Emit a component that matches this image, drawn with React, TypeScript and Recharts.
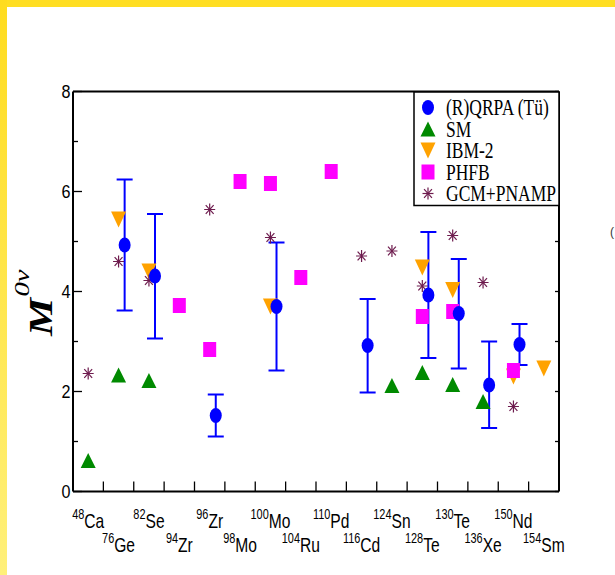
import React from 'react';
import { ScatterChart, Scatter, XAxis, YAxis, ErrorBar, ReferenceLine } from 'recharts';

// ---- categories (nuclei) ----
const massNumbers = ['48', '76', '82', '94', '96', '98', '100', '104', '110', '116', '124', '128', '130', '136', '150', '154'];
const elements = ['Ca', 'Ge', 'Se', 'Zr', 'Zr', 'Mo', 'Mo', 'Ru', 'Pd', 'Cd', 'Sn', 'Te', 'Te', 'Xe', 'Nd', 'Sm'];
const nuclei = massNumbers.map((m, i) => m + elements[i]);

// ---- (R)QRPA (Tü) ----
const qrpaNuclei = ['76Ge', '82Se', '96Zr', '100Mo', '116Cd', '128Te', '130Te', '136Xe', '150Nd'];
const qrpaValues = [4.93, 4.31, 1.52, 3.7, 2.92, 3.93, 3.56, 2.13, 2.94];
const qrpaLow = [3.62, 3.06, 1.1, 2.42, 1.98, 2.67, 2.46, 1.27, 2.53];
const qrpaHigh = [6.24, 5.55, 1.94, 4.98, 3.85, 5.19, 4.65, 3.0, 3.35];

// ---- SM ----
const smNuclei = ['48Ca', '76Ge', '82Se', '124Sn', '128Te', '130Te', '136Xe'];
const smValues = [0.62, 2.33, 2.22, 2.12, 2.38, 2.14, 1.8];

// ---- IBM-2 ----
const ibmNuclei = ['76Ge', '82Se', '100Mo', '128Te', '130Te', '150Nd', '154Sm'];
const ibmValues = [5.44, 4.4, 3.7, 4.48, 4.03, 2.3, 2.46];

// ---- PHFB ----
const phfbNuclei = ['94Zr', '96Zr', '98Mo', '100Mo', '104Ru', '110Pd', '128Te', '130Te', '150Nd'];
const phfbValues = [3.72, 2.84, 6.2, 6.16, 4.28, 6.4, 3.5, 3.6, 2.42];

// ---- GCM+PNAMP ----
const gcmNuclei = ['48Ca', '76Ge', '82Se', '96Zr', '100Mo', '116Cd', '124Sn', '128Te', '130Te', '136Xe', '150Nd'];
const gcmValues = [2.36, 4.6, 4.22, 5.64, 5.08, 4.71, 4.81, 4.11, 5.12, 4.18, 1.7];

const yTicks = [0, 1, 2, 3, 4, 5, 6, 7, 8];
const seriesNames = ['(R)QRPA (Tü)', 'SM', 'IBM-2', 'PHFB', 'GCM+PNAMP'];

const COLORS = {
  qrpa: '#0000ff',
  sm: '#008a00',
  ibm: '#ffa200',
  phfb: '#ff00ff',
  gcm: '#6e1c4e',
};

const QRPA_SHIFT = 0.2;
const pos = (n: string) => nuclei.indexOf(n) + 0.5;

const qrpaData = qrpaNuclei.map((n, i) => ({
  x: pos(n) + QRPA_SHIFT,
  y: qrpaValues[i],
  err: [qrpaValues[i] - qrpaLow[i], qrpaHigh[i] - qrpaValues[i]],
}));
const smData = smNuclei.map((n, i) => ({ x: pos(n), y: smValues[i] }));
const ibmData = ibmNuclei.map((n, i) => ({ x: pos(n), y: ibmValues[i] }));
const phfbData = phfbNuclei.map((n, i) => ({ x: pos(n), y: phfbValues[i] }));
const gcmData = gcmNuclei.map((n, i) => ({ x: pos(n), y: gcmValues[i] }));

const xTicks: number[] = [];
for (let i = 0; i <= nuclei.length * 2; i++) xTicks.push(i / 2);

// ---- marker shapes ----
const EllipseMark = ({ cx, cy }: any) => <ellipse cx={cx} cy={cy} rx={6} ry={7.5} fill={COLORS.qrpa} />;
const UpTri = ({ cx, cy }: any) => (
  <polygon points={`${cx},${cy - 7.5} ${cx - 7.5},${cy + 7.5} ${cx + 7.5},${cy + 7.5}`} fill={COLORS.sm} />
);
const DownTri = ({ cx, cy }: any) => (
  <polygon points={`${cx - 7.5},${cy - 8} ${cx + 7.5},${cy - 8} ${cx},${cy + 8}`} fill={COLORS.ibm} />
);
const SquareMark = ({ cx, cy }: any) => <rect x={cx - 6.5} y={cy - 7.5} width={13} height={15} fill={COLORS.phfb} />;
const StarMark = ({ cx, cy }: any) => {
  const r = 5.5;
  const d = r * 0.72;
  return (
    <g stroke={COLORS.gcm} strokeWidth={1.2}>
      <line x1={cx} y1={cy - r * 1.1} x2={cx} y2={cy + r * 1.1} />
      <line x1={cx - r} y1={cy} x2={cx + r} y2={cy} />
      <line x1={cx - d} y1={cy - d * 1.1} x2={cx + d} y2={cy + d * 1.1} />
      <line x1={cx - d} y1={cy + d * 1.1} x2={cx + d} y2={cy - d * 1.1} />
    </g>
  );
};
const legendShapes = [EllipseMark, UpTri, DownTri, SquareMark, StarMark];

// ---- ticks ----
const LeftTick = (props: any) => {
  const { x, y, payload } = props;
  const v = payload.value;
  const major = v % 2 === 0;
  return (
    <g>
      <line x1={x} x2={x + (major ? 9 : 5)} y1={y} y2={y} stroke="#000" strokeWidth={1.3} />
      {major && (
        <text
          transform={`translate(${x - 2.5},${y + 6.8}) scale(0.85,1)`}
          textAnchor="end"
          fontSize={19}
          fontFamily="'Liberation Sans', Arial, sans-serif"
          fill="#000"
        >
          {v}
        </text>
      )}
    </g>
  );
};

const RightTick = (props: any) => {
  const { x, y } = props;
  return <line x1={x} x2={x - 4} y1={y} y2={y} stroke="#000" strokeWidth={1.3} />;
};

const BottomTick = (props: any) => {
  const { x, y, payload } = props;
  const v = payload.value;
  if (Number.isInteger(v)) {
    if (v === 0 || v === nuclei.length) return <g />;
    return <line x1={x} x2={x} y1={y} y2={y - 10} stroke="#000" strokeWidth={1.3} />;
  }
  const i = Math.floor(v);
  const row = i % 2;
  return (
    <text
      transform={`translate(${x},${y + (row ? 60 : 36)}) scale(0.78,1)`}
      textAnchor="middle"
      fontFamily="'Liberation Sans', Arial, sans-serif"
      fill="#000"
    >
      <tspan fontSize={14} dy={-9}>{massNumbers[i]}</tspan>
      <tspan fontSize={20} dy={9}>{elements[i]}</tspan>
    </text>
  );
};

const YTitle = () => (
  <text
    transform="translate(52,336) rotate(-90) scale(1.3,1)"
    fontFamily="'Liberation Serif', 'Times New Roman', serif"
    fill="#000"
  >
    <tspan fontSize={33} fontWeight="bold" fontStyle="italic">M</tspan>
    <tspan fontSize={22} fontStyle="italic" dy={-23} dx={1}>0ν</tspan>
  </text>
);

const LegendBox = () => (
  <svg width={147} height={116} style={{ position: 'absolute', left: 413, top: 90.5 }}>
    <rect x={1} y={1} width={145} height={113.5} fill="#fff" stroke="#000" strokeWidth={1.5} />
    {seriesNames.map((name, i) => {
      const Shape = legendShapes[i];
      const cy = 16.5 + i * 21.5;
      return (
        <g key={name}>
          <Shape cx={15} cy={cy} />
          <text
            transform={`translate(33,${cy + 7.6}) scale(1,1.3)`}
            fontSize={17.5}
            fontFamily="'Liberation Serif', 'Times New Roman', serif"
            fill="#000"
          >
            {name}
          </text>
        </g>
      );
    })}
  </svg>
);

export default function App() {
  return (
    <div
      style={{
        position: 'absolute',
        left: 0,
        top: 0,
        width: 615,
        height: 575,
        background: '#fff',
        overflow: 'hidden',
      }}
    >
      <div style={{ position: 'absolute', left: 0, top: 0, width: 615, height: 7, background: '#ffde22' }} />
      <div
        style={{
          position: 'absolute',
          left: 0,
          top: 0,
          width: 7,
          height: 575,
          background: 'linear-gradient(to bottom, #ffdc1e, #fff07a)',
        }}
      />
      <div style={{ position: 'absolute', left: 0, top: 0 }}>
        <ScatterChart width={615} height={575} margin={{ top: 91.5, right: 0, bottom: 0, left: 0 }}>
          <XAxis
            type="number"
            dataKey="x"
            domain={[0, nuclei.length]}
            ticks={xTicks}
            interval={0}
            height={83.5}
            tickSize={0}
            tickMargin={0}
            tickLine={false}
            axisLine={{ stroke: '#000', strokeWidth: 2 }}
            tick={<BottomTick />}
            allowDataOverflow
          />
          <YAxis
            type="number"
            dataKey="y"
            domain={[0, 8]}
            ticks={yTicks}
            interval={0}
            width={73}
            tickSize={0}
            tickMargin={0}
            tickLine={false}
            axisLine={{ stroke: '#000', strokeWidth: 2 }}
            tick={<LeftTick />}
            allowDataOverflow
            label={{ content: () => <YTitle /> }}
          />
          <YAxis
            yAxisId="r"
            orientation="right"
            type="number"
            dataKey="y"
            domain={[0, 8]}
            ticks={yTicks}
            interval={0}
            width={56}
            tickSize={0}
            tickMargin={0}
            tickLine={false}
            axisLine={{ stroke: '#000', strokeWidth: 2 }}
            tick={<RightTick />}
            allowDataOverflow
          />
          <ReferenceLine y={8} stroke="#000" strokeWidth={2} />
          <Scatter name="SM" data={smData} shape={(p: any) => <UpTri cx={p.cx} cy={p.cy} />} isAnimationActive={false} />
          <Scatter name="IBM-2" data={ibmData} shape={(p: any) => <DownTri cx={p.cx} cy={p.cy} />} isAnimationActive={false} />
          <Scatter name="PHFB" data={phfbData} shape={(p: any) => <SquareMark cx={p.cx} cy={p.cy} />} isAnimationActive={false} />
          <Scatter name="GCM+PNAMP" data={gcmData} shape={(p: any) => <StarMark cx={p.cx} cy={p.cy} />} isAnimationActive={false} />
          <Scatter name="(R)QRPA (Tü)" data={qrpaData} shape={(p: any) => <EllipseMark cx={p.cx} cy={p.cy} />} isAnimationActive={false}>
            <ErrorBar dataKey="err" direction="y" width={8} strokeWidth={2} stroke={COLORS.qrpa} isAnimationActive={false} />
          </Scatter>
        </ScatterChart>
      </div>
      <LegendBox />
      <div
        style={{
          position: 'absolute',
          left: 610,
          top: 225,
          fontSize: 12,
          fontFamily: "'Liberation Sans', Arial, sans-serif",
          color: '#333',
        }}
      >
        (
      </div>
    </div>
  );
}
